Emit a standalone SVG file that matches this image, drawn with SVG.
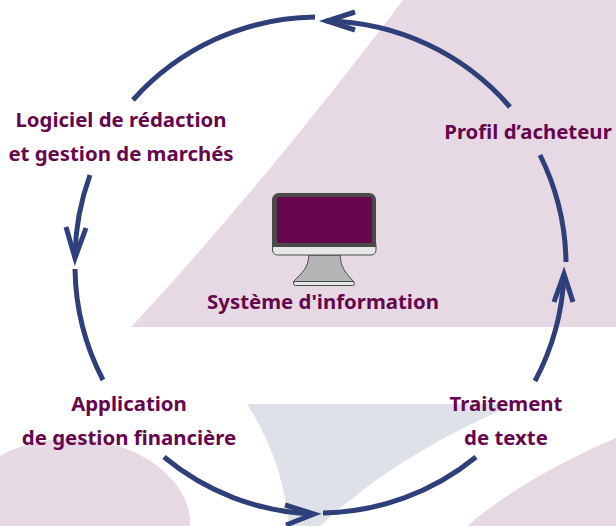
<svg xmlns="http://www.w3.org/2000/svg" width="616" height="526" viewBox="0 0 616 526">
<style>
.lbl{font-family:"Noto Sans","Open Sans","Liberation Sans",sans-serif;font-weight:700;font-size:20.4px;fill:#66064d;text-anchor:middle}
.c{fill:none;stroke:#2f3f7a;stroke-width:5}
.pink{fill:#e6d9e4}
</style>
<rect width="616" height="526" fill="#fff"/>
<g id="background">
<path class="pink" d="M131 327C220 232 320 110 403 0H616V327Z"/>
<path fill="#dfe1e9" d="M247 404H515C440 436 375 475 320 526H289C285 480 270 440 247 404Z"/>
<path class="pink" d="M0 456C30 438 75 434 115 445C165 460 192 495 190 526H0Z"/>
<path class="pink" d="M467 526C510 490 560 462 616 438V526Z"/>
</g>
<g id="connectors">
<path class="c" d="M315 17A248 248 0 0 0 133 100"/>
<path class="c" d="M90 175A248 248 0 0 0 75 258"/>
<path class="c" d="M66 227L75 258L86 228"/>
<path class="c" d="M75 269A248 248 0 0 0 103 380"/>
<path class="c" d="M164 457A248 248 0 0 0 313 514"/>
<path class="c" d="M285 505L314 514L286 525"/>
<path class="c" d="M323 513A248 248 0 0 0 476 457"/>
<path class="c" d="M535 381A248 248 0 0 0 564 275"/>
<path class="c" d="M554 302L564 274L573 302"/>
<path class="c" d="M566 262A248 248 0 0 0 540 155"/>
<path class="c" d="M510 107A248 248 0 0 0 326 21"/>
<path class="c" d="M355 12L327 21L355 30"/>
</g>
<g id="node-systeme">
<path fill="#b4b5b7" stroke="#4a4a4a" d="M309 255H340C341 268 345 272 354 282H293C303 272 308 268 309 255Z"/>
<rect x="293.500" y="281.500" width="61" height="4" rx="2" fill="#e6e7e8" stroke="#4a4a4a"/>
<rect x="272.500" y="240" width="103.500" height="15" rx="5" fill="#e6e7e8" stroke="#4a4a4a"/>
<path fill="#4a4a4a" d="M279 193H369C373 193 376 196 376 200V247H272V200C272 196 275 193 279 193Z"/>
<rect x="277" y="197" width="95" height="46" rx="2" fill="#66064d"/>
<text class="lbl" x="323" y="309">Système d'information</text>
</g>
<g id="node-profil"><text class="lbl" x="528" y="139">Profil d’acheteur</text></g>
<g id="node-logiciel"><text class="lbl" x="121" y="127">Logiciel de rédaction</text><text class="lbl" x="121" y="161">et gestion de marchés</text></g>
<g id="node-application"><text class="lbl" x="129" y="411">Application</text><text class="lbl" x="129" y="445">de gestion financière</text></g>
<g id="node-traitement"><text class="lbl" x="506" y="411">Traitement</text><text class="lbl" x="506" y="445">de texte</text></g>
</svg>
